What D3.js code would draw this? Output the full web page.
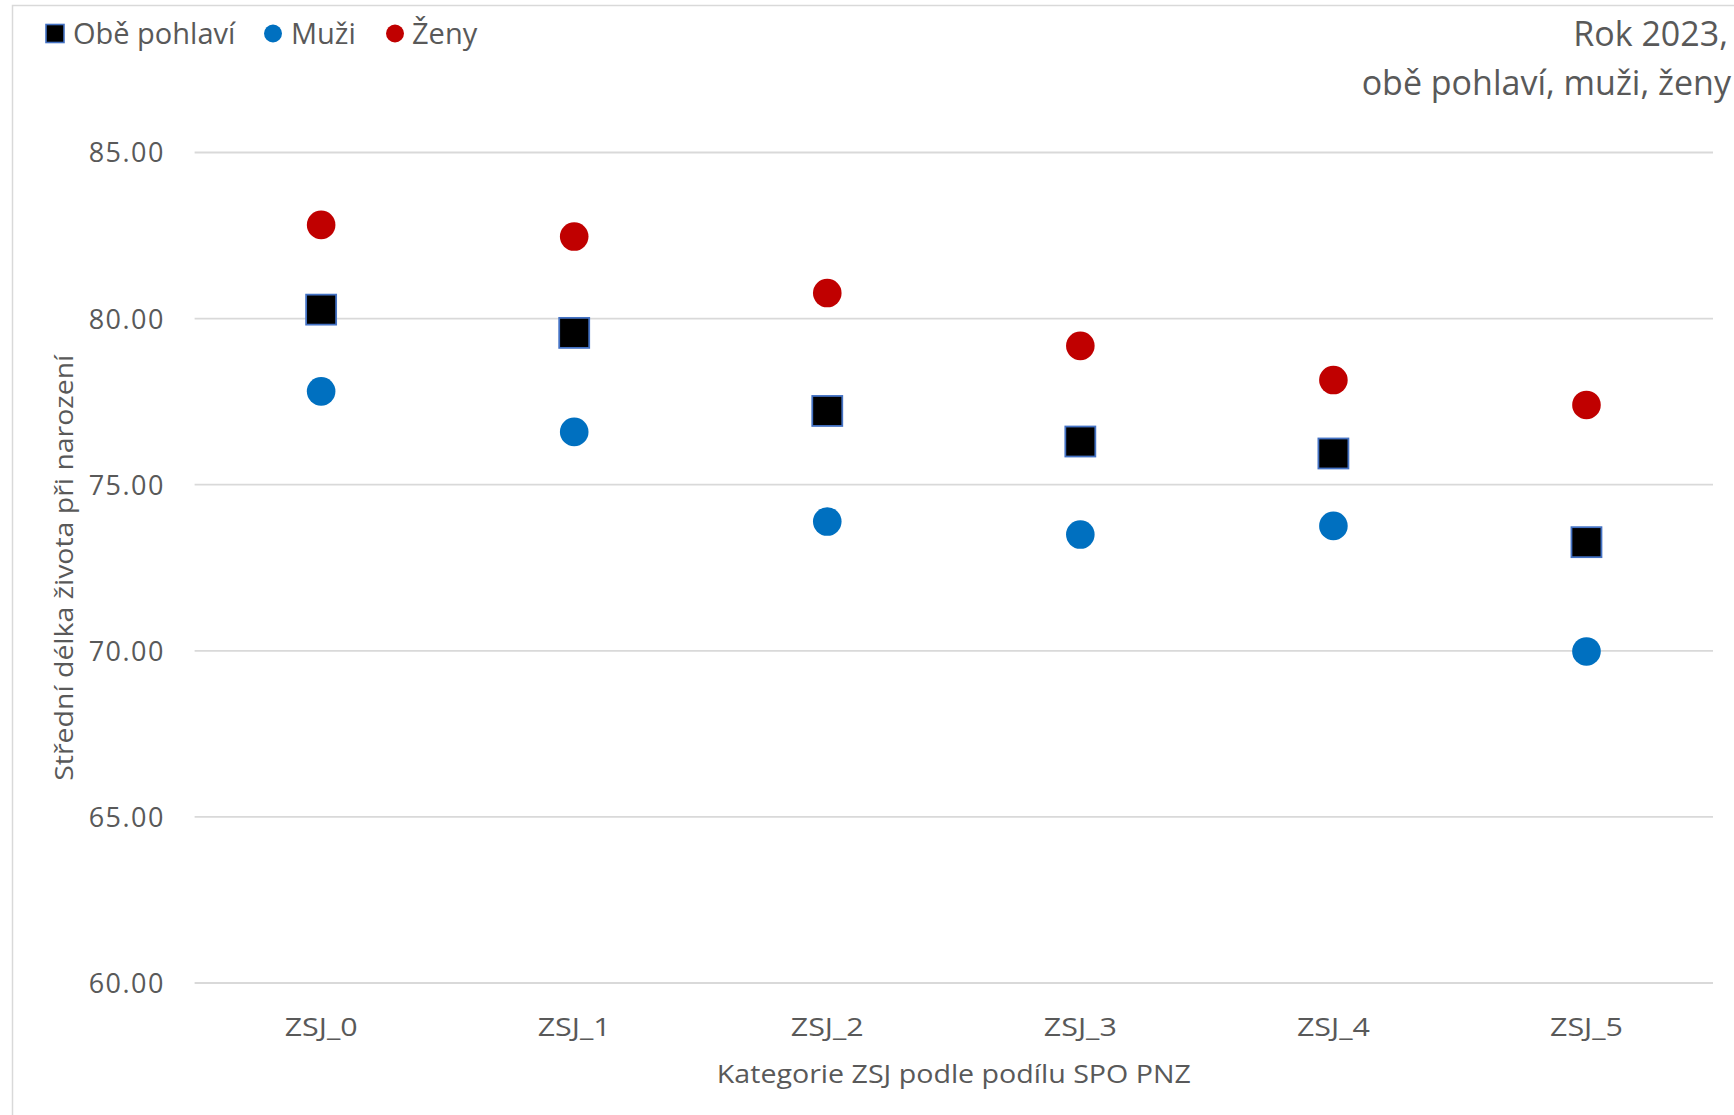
<!DOCTYPE html>
<html>
<head>
<meta charset="utf-8">
<script src="https://cdn.jsdelivr.net/npm/d3@7"></script>
<style>
  html, body { margin: 0; padding: 0; background: #fff; overflow: hidden; }
  text { font-family: "Open Sans", "Noto Sans", sans-serif; fill: #595959; }
</style>
</head>
<body>
<svg id="chart" width="1734" height="1115"></svg>
<script>
const categories = ["ZSJ_0", "ZSJ_1", "ZSJ_2", "ZSJ_3", "ZSJ_4", "ZSJ_5"];
const obePohlavi = [80.27, 79.57, 77.22, 76.30, 75.94, 73.27];
const muzi = [77.81, 76.59, 73.89, 73.50, 73.76, 69.98];
const zeny = [82.82, 82.47, 80.77, 79.18, 78.15, 77.40];
const yTicks = [60, 65, 70, 75, 80, 85];
const legendLabels = ["Obě pohlaví", "Muži", "Ženy"];
const titleLines = ["Rok 2023,", "obě pohlaví, muži, ženy"];
const xTitle = "Kategorie ZSJ podle podílu SPO PNZ";
const yTitle = "Střední délka života při narození";

const svg = d3.select("#chart");
const W = 1734, H = 1115;

// outer chart border
svg.append("rect").attr("x", 12.5).attr("y", 5.5).attr("width", W + 20).attr("height", H + 20)
  .attr("fill", "#fff").attr("stroke", "#d9d9d9").attr("stroke-width", 1.5);

const plot = { left: 194.6, right: 1713, top: 152.5, bottom: 983 };

const x = d3.scaleBand().domain(categories).range([plot.left, plot.right]);
const y = d3.scaleLinear().domain([60, 85]).range([plot.bottom, plot.top]);

// gridlines
svg.append("g").selectAll("line").data(yTicks).join("line")
  .attr("x1", plot.left).attr("x2", plot.right)
  .attr("y1", d => y(d)).attr("y2", d => y(d))
  .attr("stroke", "#d9d9d9").attr("stroke-width", 1.8);

// y axis labels
const yAxis = d3.axisLeft(y).tickValues(yTicks).tickFormat(d3.format(".2f")).tickSize(0).tickPadding(0);
const gy = svg.append("g").attr("transform", `translate(165,0)`).call(yAxis);
gy.select(".domain").remove();
gy.selectAll("text").style("font-size", "27px").attr("fill", "#595959")
  .style("font-family", "'Open Sans', sans-serif").attr("dy", "0.35em").attr("letter-spacing", "1.5px");

// x axis labels
const xAxis = d3.axisBottom(x).tickSize(0).tickPadding(0);
const gx = svg.append("g").attr("transform", `translate(0,1036)`).call(xAxis);
gx.select(".domain").remove();
gx.selectAll("text").attr("dy", 0).attr("y", 0).style("font-size", "26px").attr("fill", "#595959")
  .style("font-family", "'Open Sans', sans-serif")
  .attr("textLength", 73).attr("lengthAdjust", "spacingAndGlyphs");

// axis titles
svg.append("text").attr("x", (plot.left + plot.right) / 2).attr("y", 1083)
  .attr("text-anchor", "middle").style("font-size", "26px")
  .attr("textLength", 474).attr("lengthAdjust", "spacingAndGlyphs").text(xTitle);

svg.append("text").attr("transform", `translate(73,${(plot.top + plot.bottom) / 2}) rotate(-90)`)
  .attr("text-anchor", "middle").style("font-size", "26px")
  .attr("textLength", 426).attr("lengthAdjust", "spacingAndGlyphs").text(yTitle);

// title
svg.append("text").attr("x", 1728).attr("y", 46).attr("text-anchor", "end")
  .style("font-size", "34px").text(titleLines[0]);
svg.append("text").attr("x", 1731).attr("y", 95).attr("text-anchor", "end")
  .style("font-size", "34px").text(titleLines[1]);

const cx = d => x(d) + x.bandwidth() / 2;
const blue = "#0070C0", red = "#C00000";
const sq = 30;

// markers
svg.append("g").selectAll("circle").data(categories).join("circle")
  .attr("cx", cx).attr("cy", (d, i) => y(muzi[i])).attr("r", 14.3).attr("fill", blue);
svg.append("g").selectAll("circle").data(categories).join("circle")
  .attr("cx", cx).attr("cy", (d, i) => y(zeny[i])).attr("r", 14.3).attr("fill", red);
svg.append("g").selectAll("rect").data(categories).join("rect")
  .attr("x", d => cx(d) - sq / 2).attr("y", (d, i) => y(obePohlavi[i]) - sq / 2)
  .attr("width", sq).attr("height", sq).attr("fill", "#000")
  .attr("stroke", "#4472C4").attr("stroke-width", 1.8);

// legend
const lg = svg.append("g");
lg.append("rect").attr("x", 46).attr("y", 24.5).attr("width", 18).attr("height", 18)
  .attr("fill", "#000").attr("stroke", "#4472C4").attr("stroke-width", 1.6);
lg.append("text").attr("x", 73).attr("y", 44).style("font-size", "29px").text(legendLabels[0]);
lg.append("circle").attr("cx", 273).attr("cy", 33.5).attr("r", 9).attr("fill", blue);
lg.append("text").attr("x", 291).attr("y", 44).style("font-size", "29px").text(legendLabels[1]);
lg.append("circle").attr("cx", 395).attr("cy", 33.5).attr("r", 9).attr("fill", red);
lg.append("text").attr("x", 412).attr("y", 44).style("font-size", "29px").text(legendLabels[2]);
</script>
</body>
</html>
